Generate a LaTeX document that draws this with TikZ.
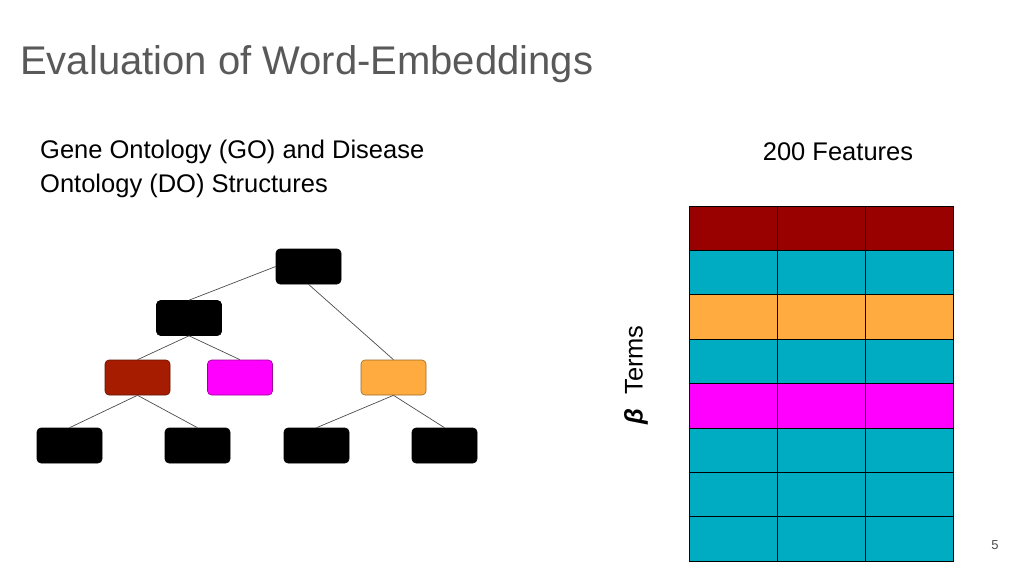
\documentclass[tikz,border=0pt]{standalone}
\usepackage{fontspec}
\setmainfont{Liberation Sans}
\begin{document}
\begin{tikzpicture}[x=1pt,y=-1pt,
  tn/.style={draw=#1!60!black,fill=#1,rounded corners=4pt,minimum width=65pt,minimum height=35pt,inner sep=0pt,line width=0.6pt},
  ed/.style={draw=black!70,line width=0.7pt},
  cell/.style={draw=black,line width=0.8pt}]
\useasboundingbox (0,0) rectangle (1024,576);
\definecolor{dred}{HTML}{990000}
\definecolor{rred}{HTML}{A61C00}
\definecolor{cyanb}{HTML}{00ACC1}
\definecolor{orng}{HTML}{FFAB40}
\definecolor{magn}{HTML}{FF00FF}
\node[anchor=west,text=black!65,font=\fontsize{40}{46}\selectfont,inner sep=0pt] (title) at (20,64) {Evaluation of Word-Embeddings};
\node[anchor=west,font=\fontsize{25.5}{34}\selectfont,align=left,inner sep=0pt] (go) at (40,169) {Gene Ontology (GO) and Disease\\Ontology (DO) Structures};
\node[font=\fontsize{25.5}{30}\selectfont,inner sep=0pt] (feat) at (838,152) {200 Features};
\node[rotate=90,font=\fontsize{25.5}{30}\selectfont,inner sep=0pt] (terms) at (636,375) {{\bfseries\itshape β}\ \ Terms};
\node[font=\fontsize{13}{15}\selectfont,text=black!70] (pg) at (995,545) {5};
% tree
\node[tn=black] (r) at (308.5,266.5) {};
\node[tn=black] (a) at (189,318) {};
\node[tn=rred] (b1) at (137.5,377.5) {};
\node[tn=magn] (b2) at (240,377.5) {};
\node[tn=orng] (b3) at (393.5,377.5) {};
\node[tn=black] (c1) at (69.5,445.5) {};
\node[tn=black] (c2) at (197.5,445.5) {};
\node[tn=black] (c3) at (316.5,445.5) {};
\node[tn=black] (c4) at (444.5,445.5) {};
\draw[ed] (r.west) -- (a.north);
\draw[ed] (r.south) -- (b3.north);
\draw[ed] (a.south) -- (b1.north);
\draw[ed] (a.south) -- (b2.north);
\draw[ed] (b1.south) -- (c1.north);
\draw[ed] (b1.south) -- (c2.north);
\draw[ed] (b3.south) -- (c3.north);
\draw[ed] (b3.south) -- (c4.north);
% grid
\foreach \c [count=\i from 0] in {dred,cyanb,orng,cyanb,magn,cyanb,cyanb,cyanb}{
  \foreach \j in {0,1,2}{
    \draw[cell,fill=\c] (689+88*\j,206+44.4*\i) rectangle ++(88,44.4);
  }
}
\end{tikzpicture}
\end{document}
